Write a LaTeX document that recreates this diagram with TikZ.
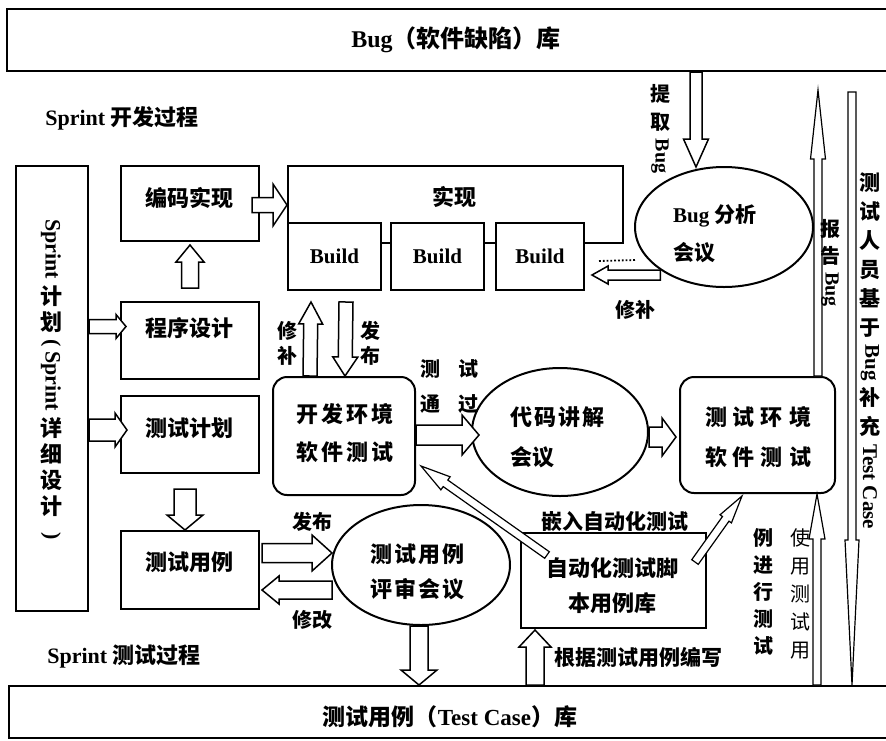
\documentclass[tikz,border=0pt]{standalone}
\usepackage{fontspec}
\setmainfont{Liberation Serif}
\newfontfamily\cjk{Noto Sans CJK SC}
\usetikzlibrary{calc,shapes.geometric}
\newcommand\zh[1]{{\cjk #1}}
\newcommand\vl[1]{\raisebox{0pt}[\dimexpr\height+6pt\relax][\dimexpr\depth+6pt\relax]{\rotatebox[origin=c]{-90}{#1}}}
\newcommand\fs[2]{\bfseries\fontsize{#1}{#2}\selectfont}
% block arrow: [opt]{start}{end}{shaft half width}{head half width}{head length}
\newcommand\blk[6][]{%
  \draw[blkarr,#1] let \p1=#2, \p2=#3,
    \n1={atan2(\y2-\y1,\x2-\x1)},
    \n2={veclen(\x2-\x1,\y2-\y1)-#6} in
    [shift={(\p1)},rotate=\n1]
    (0pt,#4pt) -- ({\n2*1pt},#4pt) -- ({\n2*1pt},#5pt) -- ({(\n2+#6)*1pt},0pt)
    -- ({\n2*1pt},-#5pt) -- ({\n2*1pt},-#4pt) -- (0pt,-#4pt) -- cycle;}
\tikzset{
  box/.style={draw, line width=2pt, fill=white, inner sep=0pt, anchor=north west},
  rbox/.style={draw, line width=2pt, fill=white, inner sep=0pt, rounded corners=14pt},
  ell/.style={draw, ellipse, line width=2pt, fill=white, inner sep=0pt},
  blkarr/.style={draw, line width=1.5pt, fill=white, line join=miter},
  txt/.style={inner sep=0pt, align=center},
  ltxt/.style={inner sep=0pt, align=left, anchor=west},
}
\begin{document}
\begin{tikzpicture}[x=1pt,y=-1pt]
\useasboundingbox (0,0) rectangle (886,740);
\clip (0,0) rectangle (886,740);
\fill[white] (0,0) rectangle (886,740);

% libraries
\node[box, minimum width=890pt, minimum height=62pt] (buglib) at (6,8) {};
\node[txt, font=\fs{24}{28}] (buglibt) at (456,40) {Bug\zh{（软件缺陷）库}};
\node[box, minimum width=890pt, minimum height=52pt] (testlib) at (8,685) {};
\node[txt, font=\fs{23}{28}] (testlibt) at (450,717) {\zh{测试用例（}Test Case\zh{）库}};

% section titles
\node[txt, font=\fs{22}{26}] (devt) at (122,118) {Sprint \zh{开发过程}};
\node[txt, font=\fs{22}{26}] (tstt) at (124,657) {Sprint \zh{测试过程}};

% sprint plan
\node[box, minimum width=72pt, minimum height=445pt] (sprint) at (15,165) {};
\node[txt, font=\fs{22}{26}] (sprintt) at (51,380)
  {\vl{Sprint}\\\zh{计}\\\zh{划}\\\vl{(\kern4pt Sprint}\\\zh{详}\\\zh{细}\\\zh{设}\\\zh{计}\\\vl{)}};

% left column boxes
\node[box, minimum width=138pt, minimum height=75pt] (bianma) at (120,165) {};
\node[txt, font=\fs{22}{26}] (bianmat) at (189,198) {\zh{编码实现}};
\node[box, minimum width=138pt, minimum height=77pt] (chengxu) at (120,301) {};
\node[txt, font=\fs{22}{26}] (chengxut) at (189,328) {\zh{程序设计}};
\node[box, minimum width=138pt, minimum height=77pt] (ceshijh) at (120,395) {};
\node[txt, font=\fs{22}{26}] (ceshijht) at (189,428) {\zh{测试计划}};
\node[box, minimum width=138pt, minimum height=78pt] (ceshiyl) at (120,530) {};
\node[txt, font=\fs{22}{26}] (ceshiylt) at (189,562) {\zh{测试用例}};

% implementation
\node[box, minimum width=335pt, minimum height=77pt] (shixian) at (287,165) {};
\node[txt, font=\fs{22}{26}] (shixiant) at (454,197) {\zh{实现}};
\node[box, minimum width=93pt, minimum height=67pt, font=\fs{21}{26}] (build1) at (287,222) {Build};
\node[box, minimum width=93pt, minimum height=67pt, font=\fs{21}{26}] (build2) at (390,222) {Build};
\node[box, minimum width=88pt, minimum height=67pt, font=\fs{21}{26}] (build3) at (495,222) {Build};

% bug meeting
\node[ell, minimum width=178pt, minimum height=120pt] (bugmeet) at (724,227) {};
\node[ltxt, font=\fs{21}{38}] (bugmeett) at (673,234) {Bug \zh{分析}\\\zh{会议}};

% dev env test
\node[rbox, minimum width=142pt, minimum height=118pt] (kaifa) at (344,436) {};
\node[txt, font=\fs{22}{38}] (kaifat) at (345,433) {\zh{开\kern3pt 发\kern3pt 环\kern3pt 境}\\\zh{软\kern3pt 件\kern3pt 测\kern3pt 试}};

% code review
\node[ell, minimum width=176pt, minimum height=128pt] (daima) at (560,432) {};
\node[ltxt, font=\fs{22}{40}] (daimat) at (510,437) {\zh{代\kern2pt 码\kern2pt 讲\kern2pt 解}\\\zh{会议}};

% test env test
\node[rbox, minimum width=155pt, minimum height=116pt] (ceshihj) at (757.5,435) {};
\node[txt, font=\fs{22}{40}] (ceshihjt) at (758,437) {\zh{测\kern6pt 试\kern6pt 环\kern6pt 境}\\\zh{软\kern6pt 件\kern6pt 测\kern6pt 试}};

% review meeting
\node[ell, minimum width=178pt, minimum height=120pt] (pingshen) at (421,565) {};
\node[ltxt, font=\fs{22}{35}] (pingshent) at (370,572) {\zh{测\kern2pt 试\kern2pt 用\kern2pt 例}\\\zh{评\kern2pt 审\kern2pt 会\kern2pt 议}};

% automation library
\node[box, minimum width=185pt, minimum height=95pt] (zidong) at (520,532) {};
\node[txt, font=\fs{22}{35}] (zidongt) at (612,586) {\zh{自动化测试脚}\\\zh{本用例库}};

% block arrows
\blk{($(bianma.east)+(-8,1.5)$)}{($(bianma.east -| shixian.west)+(0,1.5)$)}{7.5}{21}{14}
\blk{($(chengxu.north)+(0,-13)$)}{($(bianma.south)+(0,3)$)}{8.5}{14}{17}
\blk{($(sprint.east |- chengxu.west)+(0,-14)$)}{($(chengxu.west)+(6,-14)$)}{7}{12}{10}
\blk{($(sprint.east |- ceshijh.west)+(0,-4.5)$)}{($(ceshijh.west)+(7,-4.5)$)}{11}{17}{12}
\blk{($(ceshijh.south)+(-5,15)$)}{($(ceshiyl.north)+(-5,0)$)}{11}{18}{15}
\blk{($(kaifa.north)+(-34,0)$)}{($(build1.south)+(-23.5,11)$)}{7}{12}{22}
\blk{($(build1.south)+(11.5,11)$)}{($(kaifa.north)+(1,0)$)}{7}{12.5}{19}
\blk{($(kaifa.east)+(0,-1)$)}{($(kaifa.east -| daima.west)+(8,-1)$)}{10}{20}{17}
\blk{($(daima.east)+(0,5)$)}{($(daima.east -| ceshihj.west)+(-3,5)$)}{10}{19}{14}
\blk{($(bugmeet.south west |- build3.east)+(0,18.5)$)}{($(build3.east)+(7,18.5)$)}{5}{9}{16}
\draw[dotted, line width=1.8pt] ($(build3.east)+(14,4.5)$) -- ($(bugmeet.west)+(2,33)$);
\blk{($(buglib.south -| bugmeet.north)+(-28,0)$)}{($(bugmeet.north)+(-28,1)$)}{6}{12.5}{28}
\blk[line width=1.2pt]{($(ceshihj.north)+(60.5,0)$)}{($(buglib.south -| ceshihj.north)+(60.5,18)$)}{4}{7.5}{69}
\blk[line width=1.2pt]{($(buglib.south -| ceshihj.north)+(94.5,20)$)}{($(testlib.north -| ceshihj.north)+(94.5,0)$)}{4}{7}{145}
\blk[line width=1.2pt]{($(testlib.north -| ceshihj.south)+(59.5,0)$)}{($(ceshihj.south)+(59.5,0)$)}{4}{8}{45}
\blk[line width=1.2pt]{($(zidong.north west)+(27,23)$)}{($(kaifa.south east)+(5,-30)$)}{4}{8}{30}
\blk[line width=1.2pt]{($(zidong.north east)+(-12,30)$)}{($(ceshihj.south west)+(63,2)$)}{4}{7}{28}
\blk{($(testlib.north -| zidong.south)+(-78.5,0)$)}{($(zidong.south)+(-78.5,1)$)}{9}{16}{17}
\blk{($(ceshiyl.east)+(2,-17)$)}{($(ceshiyl.east -| pingshen.west)+(1,-17)$)}{9.5}{18}{20}
\blk{($(ceshiyl.east -| pingshen.west)+(1,20)$)}{($(ceshiyl.east)+(2,20)$)}{9}{14}{17}
\blk{($(pingshen.south)+(-2,0)$)}{($(pingshen.south |- testlib.north)+(-2,0)$)}{9}{18}{15}

% labels
\node[txt, font=\fs{20}{28}] (tiqu) at (660,132) {\zh{提}\\\zh{取}\\\vl{Bug}};
\node[txt, font=\fs{20}{27}] (baogao) at (830,266) {\zh{报}\\\zh{告}\\\vl{Bug}};
\node[txt, font=\fs{21}{29}] (rcol) at (870,354)
  {\zh{测}\\\zh{试}\\\zh{人}\\\zh{员}\\\zh{基}\\\zh{于}\\\vl{Bug}\\\zh{补}\\\zh{充}\\\vl{Test Case}};
\node[txt, font=\fs{20}{28}\mdseries] (shiyong) at (800,594) {\zh{使}\\\zh{用}\\\zh{测}\\\zh{试}\\\zh{用}};
\node[txt, font=\fs{20}{27}] (lijin) at (763,592) {\zh{例}\\\zh{进}\\\zh{行}\\\zh{测}\\\zh{试}};
\node[txt, font=\fs{20}{25}] (xiubu1) at (287,343) {\zh{修}\\\zh{补}};
\node[txt, font=\fs{20}{25}] (fabu1) at (370,343) {\zh{发}\\\zh{布}};
\node[txt, font=\fs{20}{35}] (tongguo) at (449,386) {\zh{测\kern18pt 试}\\\zh{通\kern18pt 过}};
\node[txt, font=\fs{20}{26}] (xiubu2) at (635,310) {\zh{修补}};
\node[txt, font=\fs{20}{26}] (fabu2) at (312,522) {\zh{发布}};
\node[txt, font=\fs{20}{26}] (xiugai) at (312,620) {\zh{修改}};
\node[txt, font=\fs{21}{26}] (qianru) at (615,521) {\zh{嵌入自动化测试}};
\node[txt, font=\fs{21}{26}] (genju) at (638,657) {\zh{根据测试用例编写}};
\end{tikzpicture}
\end{document}
